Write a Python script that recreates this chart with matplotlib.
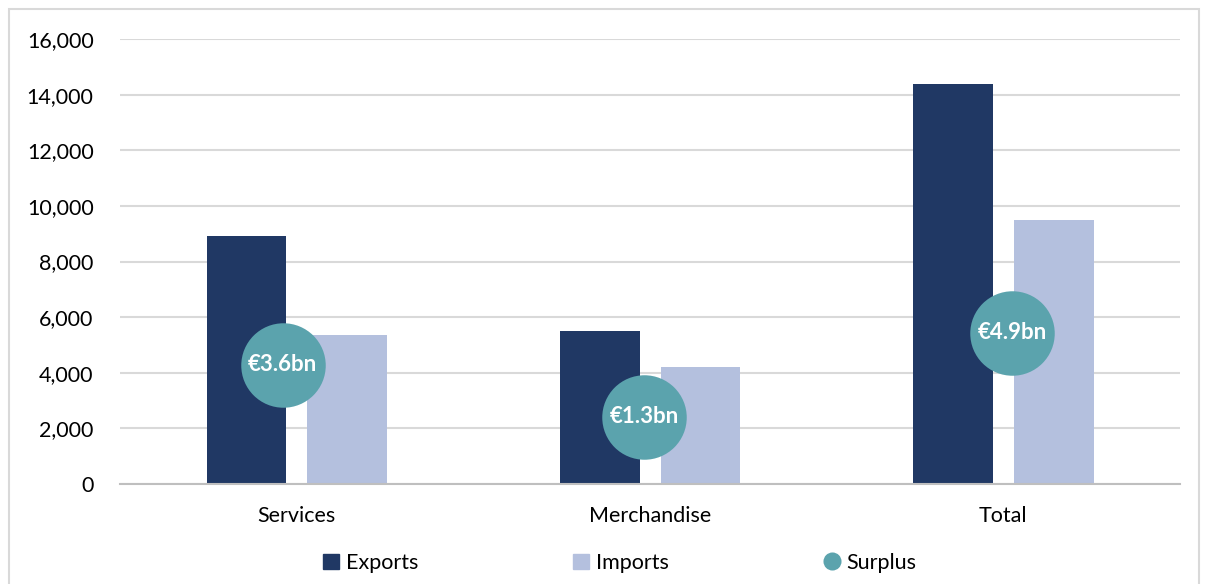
import matplotlib.pyplot as plt
from matplotlib.patches import Rectangle, Patch
from matplotlib.lines import Line2D
from matplotlib.ticker import FuncFormatter

categories = ['Services', 'Merchandise', 'Total']
exports = [8900, 5500, 14400]
imports = [5350, 4200, 9500]
# surplus bubbles: label, x (category units), y (left-axis units)
surplus_labels = ['€3.6bn', '€1.3bn', '€4.9bn']
surplus_x = [-0.04, 0.983, 2.025]
surplus_y = [4280, 2410, 5430]

c_exp = '#203864'
c_imp = '#b4c0de'
c_sur = '#5ba3ad'
grid_c = '#d9d9d9'

plt.rcParams['font.family'] = ['Lato', 'DejaVu Sans']

fig = plt.figure(figsize=(12.06, 5.84), dpi=100)
fig.patches.append(Rectangle((9 / 1206, -0.1), 1190 / 1206, 1.1 - 9 / 584,
                             transform=fig.transFigure, fill=False,
                             edgecolor=grid_c, linewidth=1.5))

ax = fig.add_axes([120 / 1206, 100 / 584, 1060 / 1206, 445 / 584])
x = range(len(categories))
w = 0.226
ax.bar([i - 0.142 for i in x], exports, w, color=c_exp, zorder=2)
ax.bar([i + 0.143 for i in x], imports, w, color=c_imp, zorder=2)
ax.scatter(surplus_x, surplus_y, s=3700, color=c_sur, zorder=3, linewidths=0)
for sx, sy, lab in zip(surplus_x, surplus_y, surplus_labels):
    ax.text(sx, sy, lab, color='white', fontsize=16, fontweight='bold',
            ha='center', va='center', zorder=4)

ax.set_xlim(-0.5, 2.5)
ax.set_ylim(0, 16000)
ax.set_yticks(range(0, 16001, 2000))
ax.yaxis.set_major_formatter(FuncFormatter(lambda v, p: f'{int(v):,}'))
ax.set_xticks(list(x))
ax.set_xticklabels(categories)
ax.tick_params(axis='both', length=0, labelsize=15.5, colors='black')
ax.tick_params(axis='y', pad=19)
ax.tick_params(axis='x', pad=16)
ax.grid(axis='y', color=grid_c, linewidth=1.5, zorder=0)
for s in ['top', 'right', 'left']:
    ax.spines[s].set_visible(False)
ax.spines['bottom'].set_color('#bfbfbf')
ax.spines['bottom'].set_linewidth(1.5)

handles = [Patch(color=c_exp), Patch(color=c_imp),
           Line2D([], [], marker='o', linestyle='none', markersize=13,
                  markerfacecolor=c_sur, markeredgewidth=0)]
fig.legend(handles, ['Exports', 'Imports', 'Surplus'], loc='center',
           bbox_to_anchor=(0.514, 21 / 584), ncol=3, frameon=False,
           fontsize=15.5, handlelength=0.75, handleheight=0.75,
           handletextpad=0.3, columnspacing=7.2)

fig.savefig('out.png', dpi=100)
